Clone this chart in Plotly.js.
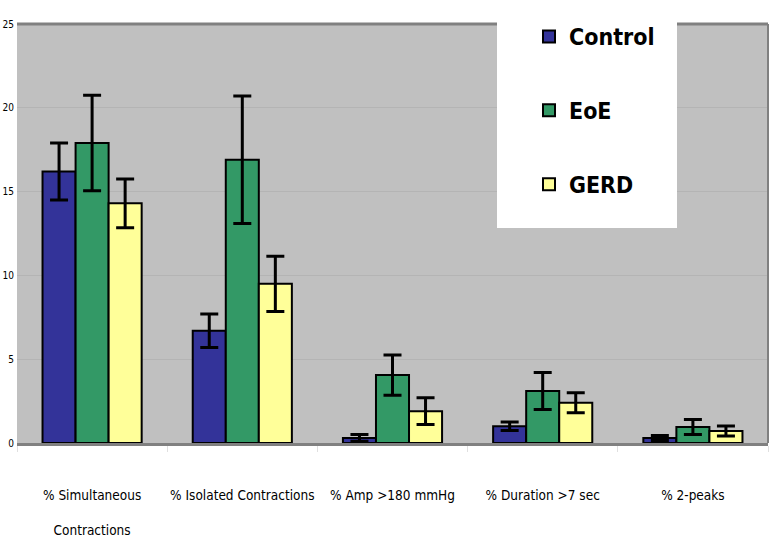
<!DOCTYPE html>
<html>
<head>
<meta charset="utf-8">
<script src="https://cdn.plot.ly/plotly-3.0.1.min.js"></script>
<style>html,body{margin:0;padding:0;background:#fff;}#chart{width:770px;height:544px;}</style>
</head>
<body>
<div id="chart"></div>
<script>
const categories = ["% Simultaneous<br><br>Contractions", "% Isolated Contractions", "% Amp >180 mmHg", "% Duration >7 sec", "% 2-peaks"];
const seriesNames = ["Control", "EoE", "GERD"];
const controlValues = [16.2, 6.7, 0.3, 1.0, 0.3];
const controlErrors = [1.7, 1.0, 0.2, 0.25, 0.15];
const eoeValues = [17.9, 16.9, 4.05, 3.1, 0.95];
const eoeErrors = [2.85, 3.8, 1.2, 1.1, 0.45];
const gerdValues = [14.3, 9.5, 1.9, 2.4, 0.72];
const gerdErrors = [1.45, 1.65, 0.8, 0.6, 0.3];
const yTicks = [0, 5, 10, 15, 20, 25];

const colors = ["#333399", "#339966", "#ffff99"];
const narrow = "DejaVu Sans Condensed";
const vals = [controlValues, eoeValues, gerdValues];
const errs = [controlErrors, eoeErrors, gerdErrors];

const traces = seriesNames.map((name, i) => ({
  type: "bar",
  name: name,
  legendgroup: name,
  x: categories,
  y: vals[i],
  marker: {color: colors[i], line: {color: "#000", width: 2}},
  error_y: {type: "data", array: errs[i], visible: true, color: "#000", thickness: 3, width: 9}
}));

const W = 770, H = 544, ML = 17, MR = 2, MT = 24, MB = 101;
const pw = W - ML - MR, ph = H - MT - MB;
const layout = {
  width: W, height: H,
  margin: {l: ML, r: MR, t: MT, b: MB, autoexpand: false},
  paper_bgcolor: "#ffffff",
  plot_bgcolor: "#c0c0c0",
  barmode: "group",
  bargap: 0.34,
  bargroupgap: 0,
  showlegend: true,
  legend: {
    xref: "container", yref: "container",
    x: 529/W, y: 1 - 15/H, xanchor: "left", yanchor: "top",
    bgcolor: "rgba(0,0,0,0)", borderwidth: 0,
    font: {family: narrow, size: 23, color: "#000", weight: "bold"},
    tracegroupgap: 41
  },
  xaxis: {
    type: "category",
    showgrid: false,
    showline: true, linecolor: "#808080", linewidth: 3,
    ticks: "outside", tickson: "boundaries", ticklen: 6, tickcolor: "#e0e0e0",
    tickangle: 0,
    tickfont: {family: narrow, size: 13.5, color: "#000"},
    ticklabelstandoff: 38,
    fixedrange: true
  },
  yaxis: {
    range: [0, 25],
    tickvals: yTicks,
    ticktext: yTicks.map(String),
    showgrid: true, gridcolor: "#b4b4b4", gridwidth: 1,
    showline: false, zeroline: false,
    tickfont: {family: narrow, size: 10, color: "#000"},
    ticks: "", ticklabelstandoff: 2,
    fixedrange: true
  },
  shapes: [
    {type: "line", xref: "paper", yref: "paper", x0: 0, x1: 1, y0: 1, y1: 1, line: {color: "#808080", width: 3}},
    {type: "line", xref: "paper", yref: "paper", x0: 1, x1: 1, y0: 0, y1: 1, line: {color: "#808080", width: 2}},
    {type: "rect", xref: "paper", yref: "paper", layer: "above",
     x0: (497 - ML) / pw, x1: (677 - ML) / pw,
     y0: (H - MB - 228) / ph, y1: (H - MB) / ph,
     fillcolor: "#ffffff", line: {width: 0}}
  ]
};

Plotly.newPlot("chart", traces, layout, {displayModeBar: false, staticPlot: true});
</script>
</body>
</html>
